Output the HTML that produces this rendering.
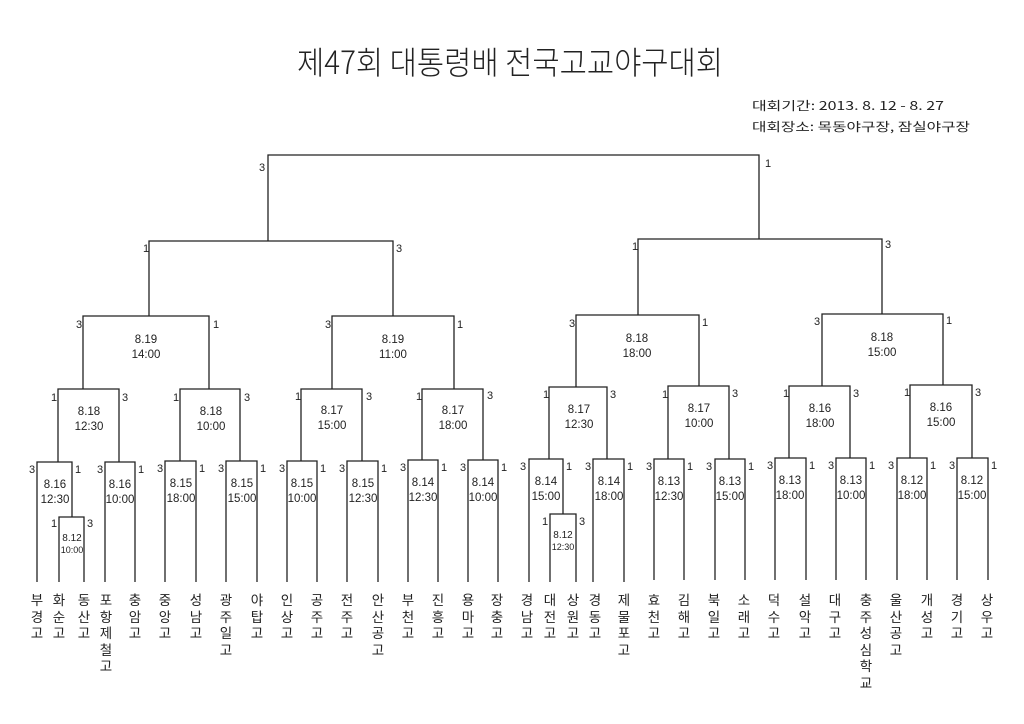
<!DOCTYPE html>
<html><head><meta charset="utf-8"><style>
body{margin:0;background:#fff;}
#c{position:relative;width:1024px;height:724px;overflow:hidden;background:#fff;}
.t{position:absolute;top:591px;width:16px;margin-left:-8px;font:13.5px/16.6px "Noto Sans CJK KR","NanumGothic",sans-serif;color:#222;text-align:center;word-break:break-all;}
svg text{font-family:"Liberation Sans","Noto Sans CJK KR",sans-serif;fill:#222;}
</style></head><body><div id="c">
<svg width="1024" height="724" style="position:absolute;left:0;top:0">
<text x="297" y="74" font-size="32" textLength="426" lengthAdjust="spacingAndGlyphs" style="font-family:'Noto Sans CJK KR',sans-serif;font-weight:300">제47회 대통령배 전국고교야구대회</text>
<text x="752" y="110" font-size="12" textLength="192" lengthAdjust="spacingAndGlyphs" style="font-family:'Noto Sans CJK KR',sans-serif">대회기간: 2013. 8. 12 - 8. 27</text>
<text x="752" y="131" font-size="12" textLength="218" lengthAdjust="spacingAndGlyphs" style="font-family:'Noto Sans CJK KR',sans-serif">대회장소: 목동야구장, 잠실야구장</text>
<g fill="none" stroke="#222" stroke-width="1.3">
<polyline points="268,241 268,155 759,155 759,239"/>
<polyline points="149,316 149,241 393,241 393,316"/>
<polyline points="638,315 638,239 882,239 882,314"/>
<polyline points="83,389 83,316 209,316 209,389"/>
<polyline points="332,389 332,316 454,316 454,389"/>
<polyline points="576,387 576,315 699,315 699,386"/>
<polyline points="822,386 822,314 943,314 943,385"/>
<polyline points="58,462 58,389 119,389 119,462"/>
<polyline points="180,461 180,389 240,389 240,461"/>
<polyline points="301,461 301,389 362,389 362,461"/>
<polyline points="422,460 422,389 483,389 483,460"/>
<polyline points="549,459 549,387 607,387 607,459"/>
<polyline points="668,459 668,386 729,386 729,459"/>
<polyline points="789,458 789,386 850,386 850,458"/>
<polyline points="910,458 910,385 972,385 972,458"/>
<polyline points="37,582 37,462 72,462 72,517"/>
<polyline points="59,582 59,517 84,517 84,582"/>
<polyline points="105,582 105,462 135,462 135,582"/>
<polyline points="165,582 165,461 196,461 196,582"/>
<polyline points="226,582 226,461 257,461 257,582"/>
<polyline points="287,582 287,461 317,461 317,582"/>
<polyline points="347,582 347,461 378,461 378,582"/>
<polyline points="408,582 408,460 438,460 438,582"/>
<polyline points="468,582 468,460 498,460 498,582"/>
<polyline points="529,582 529,459 563,459 563,514"/>
<polyline points="550,582 550,514 576,514 576,582"/>
<polyline points="593,582 593,459 624,459 624,582"/>
<polyline points="654,580 654,459 684,459 684,580"/>
<polyline points="715,580 715,459 745,459 745,580"/>
<polyline points="775,580 775,458 806,458 806,580"/>
<polyline points="836,580 836,458 866,458 866,580"/>
<polyline points="897,580 897,458 927,458 927,580"/>
<polyline points="957,580 957,458 988,458 988,580"/>
</g>
<g font-size="11">
<text x="259" y="171">3</text><text x="765" y="167">1</text>
<text x="143" y="252">1</text><text x="396" y="252">3</text>
<text x="632" y="250">1</text><text x="885" y="248">3</text>
<text x="76" y="328">3</text><text x="213" y="328">1</text>
<text x="325" y="328">3</text><text x="457" y="328">1</text>
<text x="569" y="327">3</text><text x="702" y="326">1</text>
<text x="814" y="325">3</text><text x="946" y="324">1</text>
<text x="51" y="401">1</text><text x="122" y="401">3</text>
<text x="173" y="401">1</text><text x="244" y="401">3</text>
<text x="295" y="400">1</text><text x="366" y="400">3</text>
<text x="416" y="400">1</text><text x="487" y="399">3</text>
<text x="543" y="398">1</text><text x="610" y="398">3</text>
<text x="662" y="398">1</text><text x="732" y="397">3</text>
<text x="783" y="397">1</text><text x="853" y="397">3</text>
<text x="904" y="396">1</text><text x="975" y="396">3</text>
<text x="29" y="473">3</text><text x="75" y="473">1</text>
<text x="51" y="527">1</text><text x="87" y="527">3</text>
<text x="97" y="473">3</text><text x="138" y="473">1</text>
<text x="157" y="472">3</text><text x="199" y="472">1</text>
<text x="218" y="472">3</text><text x="260" y="472">1</text>
<text x="279" y="472">3</text><text x="320" y="472">1</text>
<text x="339" y="472">3</text><text x="381" y="472">1</text>
<text x="400" y="471">3</text><text x="441" y="471">1</text>
<text x="460" y="471">3</text><text x="501" y="471">1</text>
<text x="520" y="470">3</text><text x="566" y="470">1</text>
<text x="542" y="525">1</text><text x="579" y="525">3</text>
<text x="585" y="470">3</text><text x="627" y="470">1</text>
<text x="646" y="470">3</text><text x="687" y="470">1</text>
<text x="706" y="470">3</text><text x="748" y="470">1</text>
<text x="767" y="469">3</text><text x="809" y="469">1</text>
<text x="828" y="469">3</text><text x="869" y="469">1</text>
<text x="888" y="469">3</text><text x="930" y="469">1</text>
<text x="949" y="469">3</text><text x="991" y="469">1</text>
</g>
<g font-size="11.5" text-anchor="middle">
<text x="146" y="343">8.19</text><text x="146" y="358">14:00</text>
<text x="393" y="343">8.19</text><text x="393" y="358">11:00</text>
<text x="637" y="342">8.18</text><text x="637" y="357">18:00</text>
<text x="882" y="341">8.18</text><text x="882" y="356">15:00</text>
<text x="89" y="415">8.18</text><text x="89" y="430">12:30</text>
<text x="211" y="415">8.18</text><text x="211" y="430">10:00</text>
<text x="332" y="414">8.17</text><text x="332" y="429">15:00</text>
<text x="453" y="414">8.17</text><text x="453" y="429">18:00</text>
<text x="579" y="413">8.17</text><text x="579" y="428">12:30</text>
<text x="699" y="412">8.17</text><text x="699" y="427">10:00</text>
<text x="820" y="412">8.16</text><text x="820" y="427">18:00</text>
<text x="941" y="411">8.16</text><text x="941" y="426">15:00</text>
<text x="55" y="488">8.16</text><text x="55" y="503">12:30</text>
<text x="120" y="488">8.16</text><text x="120" y="503">10:00</text>
<text x="181" y="487">8.15</text><text x="181" y="502">18:00</text>
<text x="242" y="487">8.15</text><text x="242" y="502">15:00</text>
<text x="302" y="487">8.15</text><text x="302" y="502">10:00</text>
<text x="363" y="487">8.15</text><text x="363" y="502">12:30</text>
<text x="423" y="486">8.14</text><text x="423" y="501">12:30</text>
<text x="483" y="486">8.14</text><text x="483" y="501">10:00</text>
<text x="546" y="485">8.14</text><text x="546" y="500">15:00</text>
<text x="609" y="485">8.14</text><text x="609" y="500">18:00</text>
<text x="669" y="485">8.13</text><text x="669" y="500">12:30</text>
<text x="730" y="485">8.13</text><text x="730" y="500">15:00</text>
<text x="790" y="484">8.13</text><text x="790" y="499">18:00</text>
<text x="851" y="484">8.13</text><text x="851" y="499">10:00</text>
<text x="912" y="484">8.12</text><text x="912" y="499">18:00</text>
<text x="972" y="484">8.12</text><text x="972" y="499">15:00</text>
</g>
<g text-anchor="middle">
<text x="72" y="541" font-size="10">8.12</text><text x="72" y="553" font-size="9">10:00</text>
<text x="563" y="538" font-size="10">8.12</text><text x="563" y="550" font-size="9">12:30</text>
</g>
</svg>
<div class="t" style="left:37px">부경고</div>
<div class="t" style="left:59px">화순고</div>
<div class="t" style="left:84px">동산고</div>
<div class="t" style="left:106px">포항제철고</div>
<div class="t" style="left:135px">충암고</div>
<div class="t" style="left:165px">중앙고</div>
<div class="t" style="left:196px">성남고</div>
<div class="t" style="left:226px">광주일고</div>
<div class="t" style="left:257px">야탑고</div>
<div class="t" style="left:287px">인상고</div>
<div class="t" style="left:317px">공주고</div>
<div class="t" style="left:347px">전주고</div>
<div class="t" style="left:378px">안산공고</div>
<div class="t" style="left:408px">부천고</div>
<div class="t" style="left:438px">진흥고</div>
<div class="t" style="left:468px">용마고</div>
<div class="t" style="left:497px">장충고</div>
<div class="t" style="left:527px">경남고</div>
<div class="t" style="left:550px">대전고</div>
<div class="t" style="left:573px">상원고</div>
<div class="t" style="left:595px">경동고</div>
<div class="t" style="left:624px">제물포고</div>
<div class="t" style="left:654px">효천고</div>
<div class="t" style="left:684px">김해고</div>
<div class="t" style="left:714px">북일고</div>
<div class="t" style="left:744px">소래고</div>
<div class="t" style="left:774px">덕수고</div>
<div class="t" style="left:805px">설악고</div>
<div class="t" style="left:835px">대구고</div>
<div class="t" style="left:866px">충주성심학교</div>
<div class="t" style="left:896px">울산공고</div>
<div class="t" style="left:927px">개성고</div>
<div class="t" style="left:957px">경기고</div>
<div class="t" style="left:987px">상우고</div>
</div></body></html>
